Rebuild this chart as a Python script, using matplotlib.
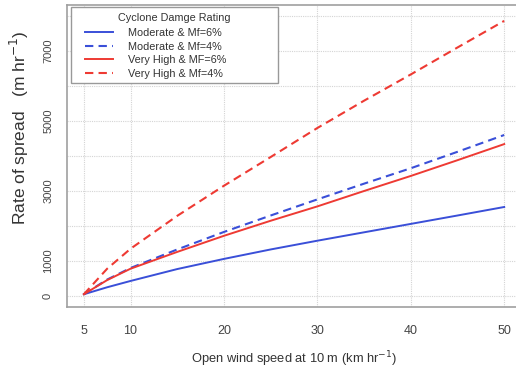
import matplotlib
matplotlib.use("Agg")
import matplotlib.pyplot as plt
from matplotlib.patches import Rectangle

plt.rcParams['font.family'] = ['Liberation Sans', 'DejaVu Sans']

wind = [5, 7.5, 10, 15, 20, 25, 30, 35, 40, 45, 50]
mod_mf6 = [50, 250, 430, 770, 1060, 1330, 1580, 1820, 2060, 2300, 2543]
mod_mf4 = [50, 470, 800, 1330, 1830, 2300, 2760, 3210, 3650, 4120, 4600]
vh_mf6 = [50, 455, 780, 1260, 1720, 2150, 2560, 3000, 3430, 3880, 4340]
vh_mf4 = [50, 780, 1350, 2290, 3150, 3970, 4800, 5580, 6330, 7100, 7860]

labels = ["Moderate & Mf=6%", "Moderate & Mf=4%", "Very High & MF=6%", "Very High & Mf=4%"]
legend_title = "Cyclone Damge Rating"
x_ticks = [5, 10, 20, 30, 40, 50]
y_grid = [0, 1000, 2000, 3000, 4000, 5000, 6000, 7000, 8000]
y_ticklabels = [0, 1000, 3000, 5000, 7000]

W, H = 516, 370
fig = plt.figure(figsize=(W / 100, H / 100), dpi=100)
ax = fig.add_axes([67 / W, (H - 307) / H, 454 / W, 302 / H])

blue = "#3a4fd8"
red = "#ee3a33"
dash = (0, (4, 2.5))
ax.plot(wind, mod_mf6, color=blue, lw=1.4, label=labels[0])
ax.plot(wind, mod_mf4, color=blue, lw=1.5, linestyle=dash, label=labels[1])
ax.plot(wind, vh_mf6, color=red, lw=1.4, label=labels[2])
ax.plot(wind, vh_mf4, color=red, lw=1.5, linestyle=dash, label=labels[3])

ax.set_xlim(3.2, 51.8)
ax.set_ylim(-314, 8314)

for xv in x_ticks:
    ax.axvline(xv, color="#d4d4d4", lw=0.8, linestyle=(0, (1, 1)), zorder=0)
for yv in y_grid:
    ax.axhline(yv, color="#d4d4d4", lw=0.8, linestyle=(0, (1, 1)), zorder=0)

ax.set_xticks(x_ticks)
ax.set_xticklabels([str(v) for v in x_ticks])
ax.set_yticks(y_ticklabels)
ax.set_yticklabels([str(v) for v in y_ticklabels], rotation=90, va="center")
ax.tick_params(axis="both", length=0, colors="#444444")
ax.tick_params(axis="x", pad=13, labelsize=9)
ax.tick_params(axis="y", pad=10, labelsize=8)

for s in ax.spines.values():
    s.set_color("#a0a0a0")
    s.set_linewidth(1.2)

ax.set_xlabel("Open wind speed at 10 m (km hr$^{-1}$)", fontsize=9.3, color="#333333", labelpad=9)
ax.set_ylabel("Rate of spread   (m hr$^{-1}$)", fontsize=12.5, color="#333333")
ax.yaxis.set_label_coords((31 - 67) / 454, (307 - 128) / 302)

# legend frame and title
ax.add_patch(Rectangle((71 / W, 1 - 83 / H), 207 / W, 76 / H, transform=fig.transFigure,
                       facecolor="white", edgecolor="#999999", lw=1.0, zorder=4, clip_on=False))
ax.text(174 / W, 1 - 18 / H, legend_title, transform=fig.transFigure, ha="center", va="center",
        fontsize=7.8, color="#333333", zorder=6)

leg = ax.legend(loc="upper left", bbox_to_anchor=(85 / W, 1 - 28 / H), bbox_transform=fig.transFigure,
                fontsize=7.8, frameon=False,
                handlelength=2.6, handletextpad=1.4, labelspacing=0.33, borderpad=0,
                borderaxespad=0)
leg.set_zorder(6)
for t in leg.get_texts():
    t.set_color("#333333")

fig.savefig("out.png", dpi=100)
